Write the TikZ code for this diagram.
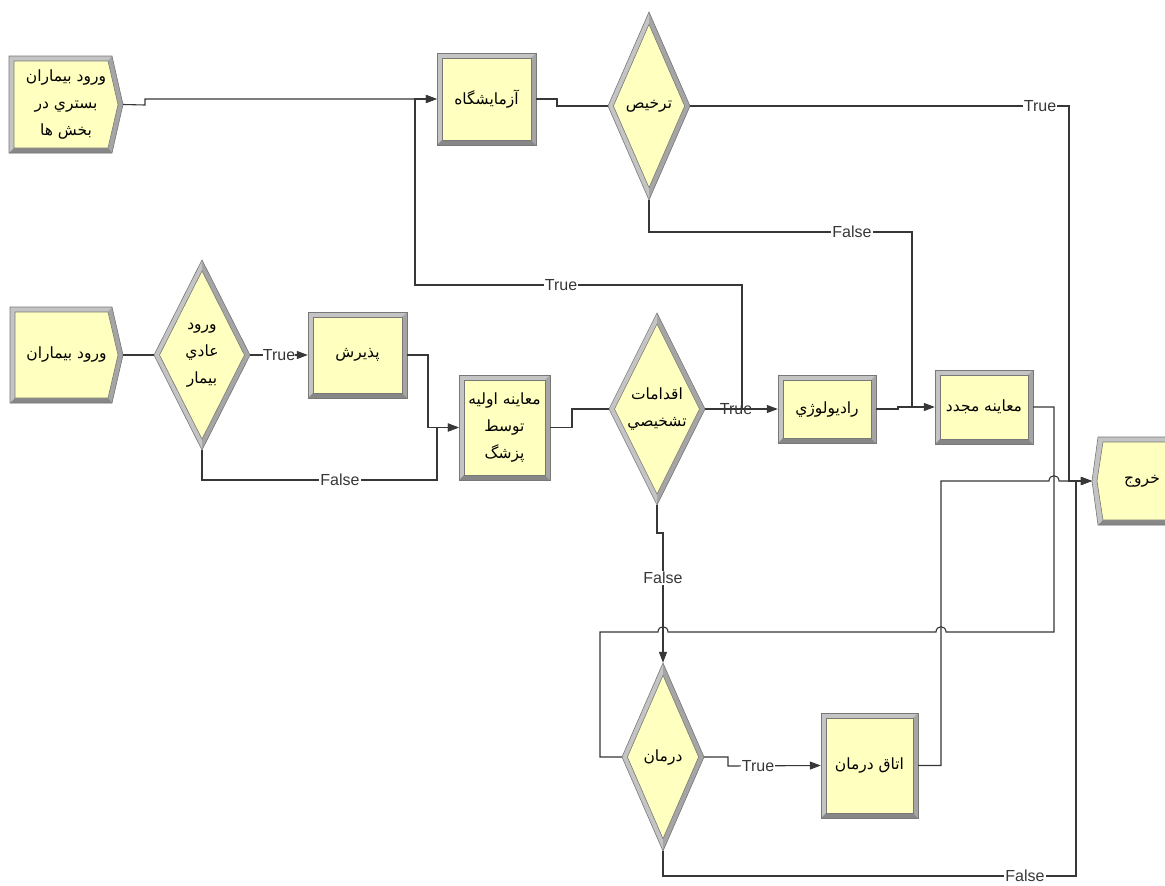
\documentclass[tikz,border=0pt]{standalone}
\usepackage{fontspec}
\setmainfont{Liberation Sans}
\newfontfamily\arabicfont[Script=Arabic]{DejaVu Sans}
\TeXXeTstate=1
\usetikzlibrary{arrows.meta}
\definecolor{ayellow}{RGB}{255,255,192}
\definecolor{flight}{RGB}{196,196,196}
\definecolor{fmid}{RGB}{165,165,165}
\definecolor{fdark}{RGB}{135,135,135}
\definecolor{fline}{RGB}{120,120,120}
\definecolor{conn}{RGB}{55,55,55}
\newcommand\ar[1]{\beginR #1\endR}
\tikzset{
  modtext/.style={inner sep=0pt, align=center, text=black,
    font=\arabicfont\fontsize{15.5}{27}\selectfont},
  lbl/.style={fill=white, inner sep=1pt, text=conn,
    font=\fontsize{16}{18}\selectfont},
  wire/.style={draw=conn, line width=1.1pt},
  arr/.style={wire, -{Triangle[length=11pt,width=8pt]}},
}
% rectangle module: name, x1, y1, x2, y2, text
\newcommand\abox[6]{%
  \fill[flight] (#2,#3) rectangle (#4,#5);
  \fill[fdark] (#2,#5) -- (#4,#5) -- ({#4-5},{#5-5}) -- ({#2+5},{#5-5}) -- cycle;
  \fill[fmid] (#4,#3) -- (#4,#5) -- ({#4-5},{#5-5}) -- ({#4-5},{#3+5}) -- cycle;
  \draw[fline, line width=0.6pt] (#2,#3) rectangle (#4,#5);
  \draw[fline, fill=ayellow, line width=0.6pt] ({#2+5},{#3+5}) rectangle ({#4-5},{#5-5});
  \node[modtext, minimum width={(#4-#2)*1pt}, minimum height={(#5-#3)*1pt}] (#1) at ({(#2+#4)/2},{(#3+#5)/2}) {#6};
}
% create module (pointed to the right)
\newcommand\acreate[6]{%
  \fill[flight] (#2,#3) -- ({#4-11},#3) -- (#4,{(#3+#5)/2}) -- ({#4-11},#5) -- (#2,#5) -- cycle;
  \fill[fmid] ({#4-11},#3) -- (#4,{(#3+#5)/2}) -- ({#4-11},#5) -- ({#4-15},{#5-5}) -- ({#4-5},{(#3+#5)/2}) -- ({#4-15},{#3+5}) -- cycle;
  \fill[fdark] (#2,#5) -- ({#4-11},#5) -- ({#4-15},{#5-5}) -- ({#2+5},{#5-5}) -- cycle;
  \draw[fline, line width=0.6pt] (#2,#3) -- ({#4-11},#3) -- (#4,{(#3+#5)/2}) -- ({#4-11},#5) -- (#2,#5) -- cycle;
  \draw[fline, fill=ayellow, line width=0.6pt] ({#2+5},{#3+5}) -- ({#4-15},{#3+5}) -- ({#4-5},{(#3+#5)/2}) -- ({#4-15},{#5-5}) -- ({#2+5},{#5-5}) -- cycle;
  \node[modtext, minimum width={(#4-#2)*1pt}, minimum height={(#5-#3)*1pt}] (#1) at ({(#2+#4)/2},{(#3+#5)/2}) {#6};
}
% dispose module (pointed to the left)
\newcommand\adispose[6]{%
  \fill[flight] (#2,{(#3+#5)/2}) -- ({#2+6},#3) -- (#4,#3) -- (#4,#5) -- ({#2+6},#5) -- cycle;
  \fill[fdark] ({#2+6},#5) -- (#4,#5) -- ({#4-5},{#5-5}) -- ({#2+11},{#5-5}) -- cycle;
  \draw[fline, line width=0.6pt] (#2,{(#3+#5)/2}) -- ({#2+6},#3) -- (#4,#3) -- (#4,#5) -- ({#2+6},#5) -- cycle;
  \draw[fline, fill=ayellow, line width=0.6pt] ({#2+5},{(#3+#5)/2}) -- ({#2+11},{#3+5}) -- ({#4-5},{#3+5}) -- ({#4-5},{#5-5}) -- ({#2+11},{#5-5}) -- cycle;
  \node[modtext, minimum width={(#4-#2)*1pt}, minimum height={(#5-#3)*1pt}] (#1) at ({(#2+#4)/2},{(#3+#5)/2}) {#6};
}
% decide module: name, cx, cy, half width, half height, text
\newcommand\adiam[6]{%
  \pgfmathsetmacro\dk{1-5*sqrt(1/(#4*#4)+1/(#5*#5))}%
  \pgfmathsetmacro\dw{#4*\dk}%
  \pgfmathsetmacro\dh{#5*\dk}%
  \fill[flight] (#2,{#3-#5}) -- ({#2+#4},#3) -- (#2,{#3+#5}) -- ({#2-#4},#3) -- cycle;
  \fill[fmid] (#2,{#3-#5}) -- ({#2+#4},#3) -- (#2,{#3+#5}) -- (#2,{#3+\dh}) -- ({#2+\dw},#3) -- (#2,{#3-\dh}) -- cycle;
  \draw[fline, line width=0.6pt] (#2,{#3-#5}) -- ({#2+#4},#3) -- (#2,{#3+#5}) -- ({#2-#4},#3) -- cycle;
  \draw[fline, fill=ayellow, line width=0.6pt] (#2,{#3-\dh}) -- ({#2+\dw},#3) -- (#2,{#3+\dh}) -- ({#2-\dw},#3) -- cycle;
  \node[modtext, minimum width={2*#4*1pt}, minimum height={2*#5*1pt}] (#1) at (#2,#3) {#6};
}
\begin{document}
\begin{tikzpicture}[x=1pt, y=-1pt]
\useasboundingbox (0,0) rectangle (1165,886);
\clip (0,0) rectangle (1165,886);
\fill[white] (0,0) rectangle (1165,886);

% ---------- modules ----------
\acreate{cone}{9}{56}{123}{153}{\ar{ورود بيماران}\\\ar{بستري در}\\\ar{بخش ها}}
\abox{lab}{437}{53}{536}{145}{\ar{آزمايشگاه}}
\adiam{tarkhis}{649}{106}{41}{94}{\ar{ترخيص}}
\acreate{ctwo}{10}{307}{123}{403}{\ar{ورود بيماران}}
\adiam{adi}{202}{355}{48}{95}{\ar{ورود}\\\ar{عادي}\\\ar{بيمار}}
\abox{pazir}{308}{312}{407}{398}{\ar{پذيرش}}
\abox{moone}{459}{375}{550}{480}{\ar{معاينه اوليه}\\\ar{توسط}\\\ar{پزشگ}}
\adiam{eqdam}{657}{409}{48}{96}{\ar{اقدامات}\\\ar{تشخيصي}}
\abox{radio}{778}{375}{876}{443}{\ar{راديولوژي}}
\abox{motwo}{935}{370}{1033}{444}{\ar{معاينه مجدد}}
\adispose{exit}{1092}{437}{1192}{525}{\ar{خروج}}
\adiam{darman}{663}{757}{41}{94}{\ar{درمان}}
\abox{otagh}{821}{713}{918}{818}{\ar{اتاق درمان}}

% ---------- connectors ----------
\draw[arr] (cone.east) -- (145,105) -- (145,99) -- (lab.west);
\draw[wire] (lab.east) -- (557,99) -- (557,106) -- (tarkhis.west);
\draw[arr] (tarkhis.east) -- (1069,106) -- (1069,481) -- (exit.west);
\node[lbl] at (1040,106) {True};
\draw[wire] (tarkhis.south) -- (649,232) -- (912,232) -- (912,407);
\node[lbl] at (852,232) {False};

\draw[wire] (ctwo.east) -- (adi.west);
\draw[arr] (adi.east) -- (pazir.west);
\node[lbl, inner sep=0.3pt] at (279,355) {True};
\draw[arr] (adi.south) -- (202,480) -- (437,480) -- (437,427.5) -- (moone.west);
\node[lbl] at (340,480) {False};
\draw[arr] (pazir.east) -- (428,355) -- (428,427.5) -- (moone.west);
\draw[wire] (moone.east) -- (572,427.5) -- (572,409) -- (eqdam.west);

\coordinate (jk) at (742,409);
\draw[arr] (eqdam.east) -- (radio.west);
\draw[arr] (jk) -- (742,285) -- (415,285) -- (415,99) -- (lab.west);
\node[lbl] at (561,285) {True};
\node[lbl, fill=none] at (736,409) {True};
\draw[arr] (radio.east) -- (898,409) -- (898,407) -- (motwo.west);

\draw[wire] (motwo.east) -- (1054,407) -- (1054,632) -- (946,632)
   .. controls (946,625) and (936,625) .. (936,632) -- (668,632)
   .. controls (668,625) and (658,625) .. (658,632) -- (600,632) -- (600,757) -- (darman.west);
\draw[arr] (otagh.east) -- (941,765.5) -- (941,481) -- (1049,481)
   .. controls (1049,474) and (1059,474) .. (1059,481) -- (exit.west);

\draw[arr] (eqdam.south) -- (657,533) -- (663,533) -- (darman.north);
\node[lbl] at (663,578) {False};
\draw[arr] (darman.east) -- (728,757) -- (728,766) -- (otagh.west);
\node[lbl] at (758,766) {True};
\draw[arr] (darman.south) -- (663,876) -- (1076,876) -- (1076,481) -- (exit.west);
\node[lbl] at (1025,876) {False};
\end{tikzpicture}
\end{document}
